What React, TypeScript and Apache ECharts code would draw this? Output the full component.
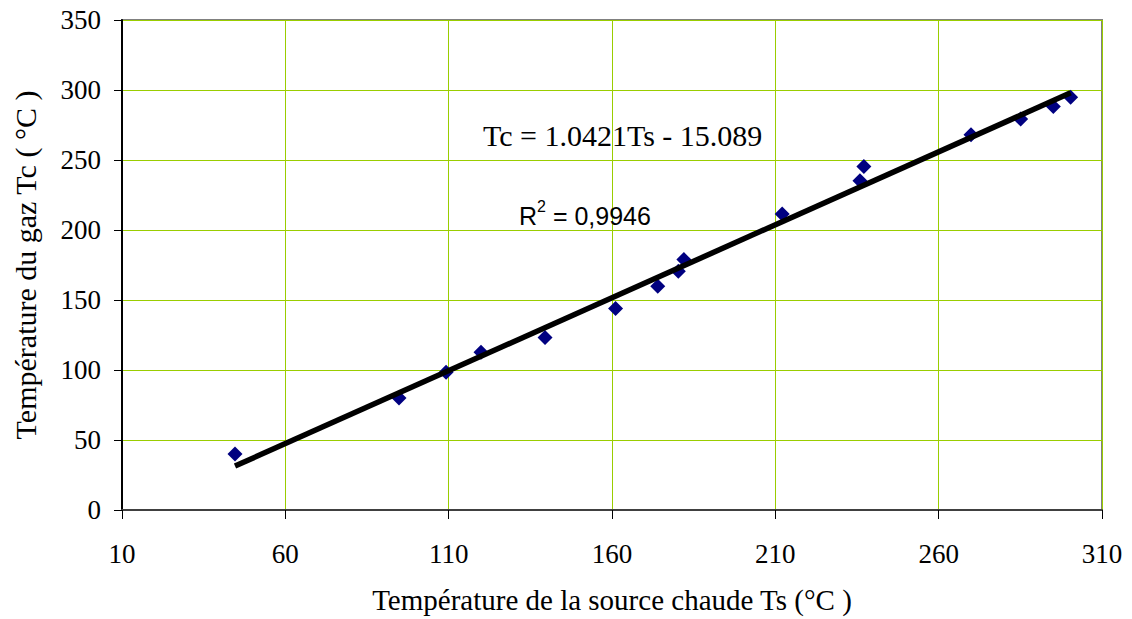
import React, { useEffect, useRef } from "react";
import * as echarts from "echarts";

// Source temperature Ts (°C)
const ts = [44.6, 94.8, 109.2, 119.9, 139.5, 161.1, 174.0, 180.3, 182.0, 212.1, 235.9, 237.1, 269.9, 285.1, 295.1, 300.4];
// Gas temperature Tc (°C)
const tc = [40, 80, 98.4, 112.6, 123.3, 144.0, 159.9, 170.6, 178.9, 211.5, 235.2, 245.4, 268.0, 279.2, 288.2, 294.9];

const slope = 1.0421;
const intercept = -15.089;
const equationText = "Tc = 1.0421Ts - 15.089";
const r2Value = "0,9946";

const xName = "Température de la source chaude Ts (°C )";
const yName = "Température du gaz Tc ( °C )";

const SERIF = "Liberation Serif, Times New Roman, serif";
const SANS = "Liberation Sans, Arial, sans-serif";
const GRID_COLOR = "#9acd00";

export default function App() {
  const ref = useRef<HTMLDivElement>(null);

  useEffect(() => {
    document.body.style.margin = "0";
    if (!ref.current) return;
    const chart = echarts.init(ref.current, null, { renderer: "svg" });

    const points = ts.map((x, i) => [x, tc[i]]);
    const xMin = Math.min(...ts);
    const xMax = Math.max(...ts);
    const trend = [
      [xMin, slope * xMin + intercept],
      [xMax, slope * xMax + intercept],
    ];

    chart.setOption({
      animation: false,
      backgroundColor: "#ffffff",
      textStyle: { fontFamily: SERIF },
      grid: {
        left: 122,
        right: 30,
        top: 20,
        bottom: 108,
        show: true,
        borderColor: "#808080",
        borderWidth: 2,
        backgroundColor: "#ffffff",
      },
      xAxis: {
        type: "value",
        min: 10,
        max: 310,
        interval: 50,
        name: xName,
        nameLocation: "middle",
        nameGap: 75,
        nameTextStyle: { fontFamily: SERIF, fontSize: 29, color: "#000" },
        axisLine: { show: true, lineStyle: { color: "#404040", width: 2 } },
        axisTick: { show: true, inside: false, length: 9, lineStyle: { color: "#000", width: 1 } },
        axisLabel: { fontFamily: SERIF, fontSize: 27, color: "#000", margin: 30 },
        splitLine: { show: true, lineStyle: { color: GRID_COLOR, width: 1 } },
      },
      yAxis: {
        type: "value",
        min: 0,
        max: 350,
        interval: 50,
        name: yName,
        nameLocation: "middle",
        nameRotate: 90,
        nameGap: 82,
        nameTextStyle: { fontFamily: SERIF, fontSize: 30, color: "#000" },
        axisLine: { show: true, lineStyle: { color: "#000", width: 2 } },
        axisTick: { show: true, inside: false, length: 8, lineStyle: { color: "#000", width: 1 } },
        axisLabel: { fontFamily: SERIF, fontSize: 27, color: "#000", margin: 21 },
        splitLine: { show: true, lineStyle: { color: GRID_COLOR, width: 1 } },
      },
      series: [
        {
          type: "line",
          data: trend,
          symbol: "none",
          lineStyle: { color: "#000", width: 5.5 },
          z: 3,
        },
        {
          type: "scatter",
          data: points,
          symbol: "diamond",
          symbolSize: 15,
          itemStyle: { color: "#000080", opacity: 1 },
          z: 2,
        },
      ],
      graphic: [
        {
          type: "text",
          left: 483,
          top: 120,
          style: {
            text: equationText,
            fontFamily: SERIF,
            fontSize: 30,
            fill: "#000",
          },
          z: 10,
        },
        {
          type: "text",
          left: 519,
          top: 198,
          style: {
            text: "{b|R}{s|2}{b| = " + r2Value + "}",
            fill: "#000",
            rich: {
              b: { fontFamily: SANS, fontSize: 25, fill: "#000", verticalAlign: "bottom", lineHeight: 30 },
              s: { fontFamily: SANS, fontSize: 16, fill: "#000", verticalAlign: "top", lineHeight: 30 },
            },
          },
          z: 10,
        },
      ],
    });

    return () => chart.dispose();
  }, []);

  return <div ref={ref} style={{ width: 1132, height: 619 }} />;
}
